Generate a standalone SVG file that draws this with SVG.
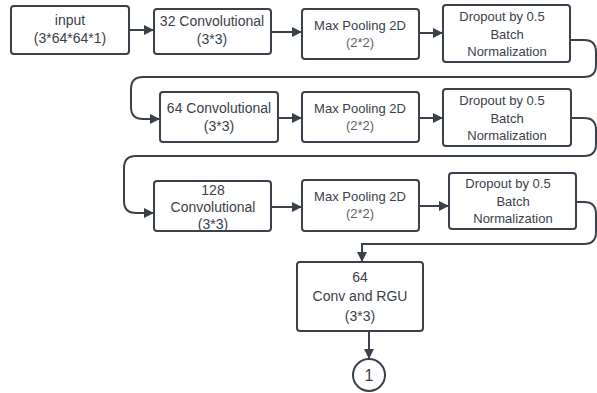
<svg xmlns="http://www.w3.org/2000/svg" width="597" height="393" viewBox="0 0 597 393">
<style>
.box{fill:#fff;stroke:#3a414a;stroke-width:2}
.t{font-family:"Liberation Sans",Arial,sans-serif;font-size:14px;fill:#3a414a;text-anchor:middle}
.s{font-size:13px}
.g{fill:#5e636b}
.c{fill:none;stroke:#3a414a;stroke-width:2}
</style>
<defs>
<marker id="ah" markerWidth="10" markerHeight="10" refX="9" refY="5" orient="auto" markerUnits="userSpaceOnUse">
<path d="M0,0 L10,5 L0,10 Z" fill="#3a414a"/>
</marker>
</defs>
<rect width="597" height="393" fill="#fff"/>
<g id="connectors">
<path class="c" d="M129,30 H153" marker-end="url(#ah)"/>
<path class="c" d="M271,32 H301" marker-end="url(#ah)"/>
<path class="c" d="M419,33 H442" marker-end="url(#ah)"/>
<path class="c" d="M570,40 H584 Q596,40 596,52 V65 Q596,77 584,77 H143 Q131,77 131,89 V107 Q131,119 143,119 H159" marker-end="url(#ah)"/>
<path class="c" d="M278,118 H301" marker-end="url(#ah)"/>
<path class="c" d="M419,118 H442" marker-end="url(#ah)"/>
<path class="c" d="M571,118 H584 Q596,118 596,130 V144 Q596,156 584,156 H136 Q124,156 124,168 V201 Q124,213 136,213 H153" marker-end="url(#ah)"/>
<path class="c" d="M271,207 H301" marker-end="url(#ah)"/>
<path class="c" d="M419,206 H448" marker-end="url(#ah)"/>
<path class="c" d="M576,202 H584 Q596,202 596,214 V232 Q596,244 584,244 H362 V261" marker-end="url(#ah)"/>
<path class="c" d="M369,331 V358" marker-end="url(#ah)"/>
</g>
<g id="input">
<rect class="box" x="11" y="6" width="118" height="48" rx="3"/>
<text class="t" x="70" y="25">input</text>
<text class="t" x="70" y="43">(3*64*64*1)</text>
</g>
<g id="conv32">
<rect class="box" x="154" y="9" width="117" height="45" rx="3"/>
<text class="t" x="212" y="26">32 Convolutional</text>
<text class="t" x="212" y="44">(3*3)</text>
</g>
<g id="pool1">
<rect class="box" x="302" y="9" width="117" height="50" rx="3"/>
<text class="t s" x="360" y="30">Max Pooling 2D</text>
<text class="t s g" x="360" y="47">(2*2)</text>
</g>
<g id="drop1">
<rect class="box" x="443" y="5" width="127" height="57" rx="3"/>
<text class="t s" x="502" y="21">Dropout by 0.5</text>
<text class="t s" x="507" y="39">Batch</text>
<text class="t s" x="507" y="56">Normalization</text>
</g>
<g id="conv64">
<rect class="box" x="160" y="92" width="118" height="50" rx="3"/>
<text class="t" x="219" y="113">64 Convolutional</text>
<text class="t" x="219" y="131">(3*3)</text>
</g>
<g id="pool2">
<rect class="box" x="302" y="92" width="117" height="50" rx="3"/>
<text class="t s" x="360" y="113">Max Pooling 2D</text>
<text class="t s g" x="360" y="130">(2*2)</text>
</g>
<g id="drop2">
<rect class="box" x="443" y="89" width="128" height="57" rx="3"/>
<text class="t s" x="502" y="105">Dropout by 0.5</text>
<text class="t s" x="507" y="123">Batch</text>
<text class="t s" x="507" y="140">Normalization</text>
</g>
<g id="conv128">
<rect class="box" x="154" y="181" width="117" height="50" rx="3"/>
<text class="t" x="213" y="195">128</text>
<text class="t" x="213" y="212">Convolutional</text>
<text class="t" x="213" y="229">(3*3)</text>
</g>
<g id="pool3">
<rect class="box" x="302" y="180" width="117" height="51" rx="3"/>
<text class="t s" x="360" y="201">Max Pooling 2D</text>
<text class="t s g" x="360" y="218">(2*2)</text>
</g>
<g id="drop3">
<rect class="box" x="449" y="173" width="127" height="56" rx="3"/>
<text class="t s" x="508" y="188">Dropout by 0.5</text>
<text class="t s" x="513" y="206">Batch</text>
<text class="t s" x="513" y="223">Normalization</text>
</g>
<g id="convrgu">
<rect class="box" x="297" y="262" width="126" height="69" rx="3"/>
<text class="t" x="360" y="282">64</text>
<text class="t" x="360" y="301">Conv and RGU</text>
<text class="t" x="360" y="321">(3*3)</text>
</g>
<g id="conn1">
<circle class="box" cx="369" cy="375" r="16"/>
<text class="t" x="369" y="381" style="font-size:16px">1</text>
</g>
</svg>
